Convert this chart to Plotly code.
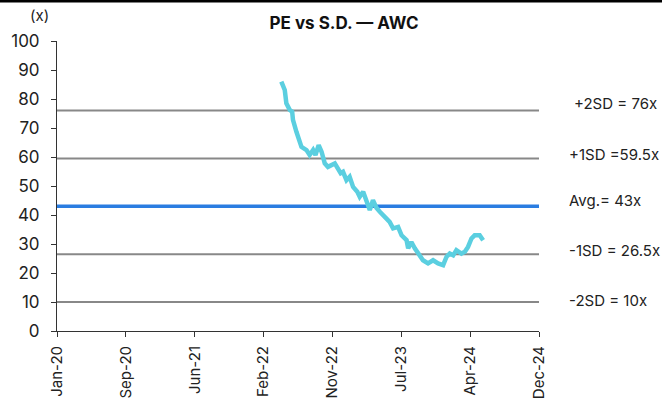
import plotly.graph_objects as go

dates = ["2022-04-27","2022-05-10","2022-05-16","2022-05-29","2022-06-07","2022-06-10","2022-06-23",
         "2022-07-06","2022-07-12","2022-07-31","2022-08-12","2022-08-25","2022-09-03","2022-09-15",
         "2022-09-26","2022-10-08","2022-10-20","2022-11-15","2022-11-27","2022-12-07","2022-12-16",
         "2022-12-29","2023-01-10","2023-01-23","2023-02-08","2023-02-17","2023-03-02","2023-03-14",
         "2023-03-27","2023-04-08","2023-04-21","2023-05-04","2023-05-22","2023-06-10","2023-06-23",
         "2023-07-12","2023-07-25","2023-08-13","2023-08-19","2023-08-31","2023-09-13","2023-10-02",
         "2023-10-14","2023-11-02","2023-11-21","2023-12-10","2023-12-29","2024-01-11","2024-01-23",
         "2024-02-05","2024-02-17","2024-03-07","2024-03-20","2024-04-01","2024-04-14","2024-04-26",
         "2024-05-15","2024-05-28"]
pe = [86.0,83.1,78.5,76.2,75.6,72.8,68.7,
      65.8,63.5,62.4,60.7,62.4,60.7,64.1,
      61.8,57.8,56.6,57.8,55.5,54.4,54.9,
      52.0,53.2,49.7,48.0,46.3,48.0,44.5,
      41.7,45.1,42.5,41.1,39.4,37.6,35.4,
      35.9,33.0,31.3,28.5,30.7,28.5,26.1,
      24.4,23.3,24.4,23.3,22.7,25.6,26.7,
      26.1,27.9,26.7,27.3,29.0,31.9,33.0,
      33.0,31.3]

band_names = ["+2SD = 76x", "+1SD =59.5x", "Avg.= 43x", "-1SD = 26.5x", "-2SD = 10x"]
band_values = [76, 59.5, 43, 26.5, 10]
label_y = [78.5, 60.9, 45.1, 27.6, 10.6]
label_xshift = [33, 28, 28, 28, 28]
band_colors = ["#888888", "#888888", "#2a7de1", "#888888", "#888888"]
band_widths = [2, 2, 3.5, 2, 2]

tick_dates = ["2020-01-01","2020-09-17","2021-06-04","2022-02-19","2022-11-06","2023-07-24","2024-04-09","2024-12-25"]
tick_labels = ["Jan-20","Sep-20","Jun-21","Feb-22","Nov-22","Jul-23","Apr-24","Dec-24"]
x_start, x_end = "2020-01-01", "2024-12-25"

fig = go.Figure()
for name, v, c, w in zip(band_names, band_values, band_colors, band_widths):
    fig.add_trace(go.Scatter(x=[x_start, x_end], y=[v, v], mode="lines",
                             line=dict(color=c, width=w), name=name, hoverinfo="skip"))
for name, ly, xs in zip(band_names, label_y, label_xshift):
    fig.add_annotation(x=1.0, xref="paper", y=ly, yref="y", text=name, showarrow=False,
                       xanchor="left", xshift=xs, font=dict(size=15, color="#222222"))

fig.add_trace(go.Scatter(x=dates, y=pe, mode="lines", line=dict(color="#5bcfe0", width=4.5),
                         name="PE"))

fig.update_layout(
    width=662, height=401,
    margin=dict(l=57, r=123, t=41, b=70),
    paper_bgcolor="white", plot_bgcolor="white",
    showlegend=False,
    font=dict(family="Inter, Roboto, sans-serif", color="#222222"),
    title=dict(text="<b>PE vs S.D. — AWC</b>", x=344/662, xanchor="center", y=1 - 23/401, yanchor="middle",
               font=dict(size=17, color="#111111", weight=800)),
    xaxis=dict(range=[x_start, x_end], tickmode="array", tickvals=tick_dates, ticktext=tick_labels,
               tickangle=-90, showgrid=False, zeroline=False, showline=True, linecolor="#333333",
               linewidth=1, ticks="outside", ticklen=5, tickcolor="#333333", automargin=False,
               ticklabelstandoff=3, tickfont=dict(size=15, color="#222222")),
    yaxis=dict(range=[0, 100], dtick=10, showgrid=False, zeroline=False, showline=True,
               linecolor="#333333", linewidth=1, ticks="outside", ticklen=5, tickcolor="#333333",
               automargin=False, ticklabelstandoff=8, tickfont=dict(size=17, color="#222222")),
)
fig.add_annotation(x=0, xref="paper", y=1.0, yref="paper", text="(x)", showarrow=False,
                   xanchor="right", yanchor="bottom", xshift=-6, yshift=14,
                   font=dict(size=15, color="#222222"))
fig.add_shape(type="rect", xref="paper", yref="paper", x0=-0.2, x1=1.5,
              y0=1 + 38.5/289.7, y1=1 + 46/289.7, fillcolor="black", line=dict(width=0))

fig.write_html("out.html", config={"displayModeBar": False},
               post_script="document.body.style.margin='0px';")
